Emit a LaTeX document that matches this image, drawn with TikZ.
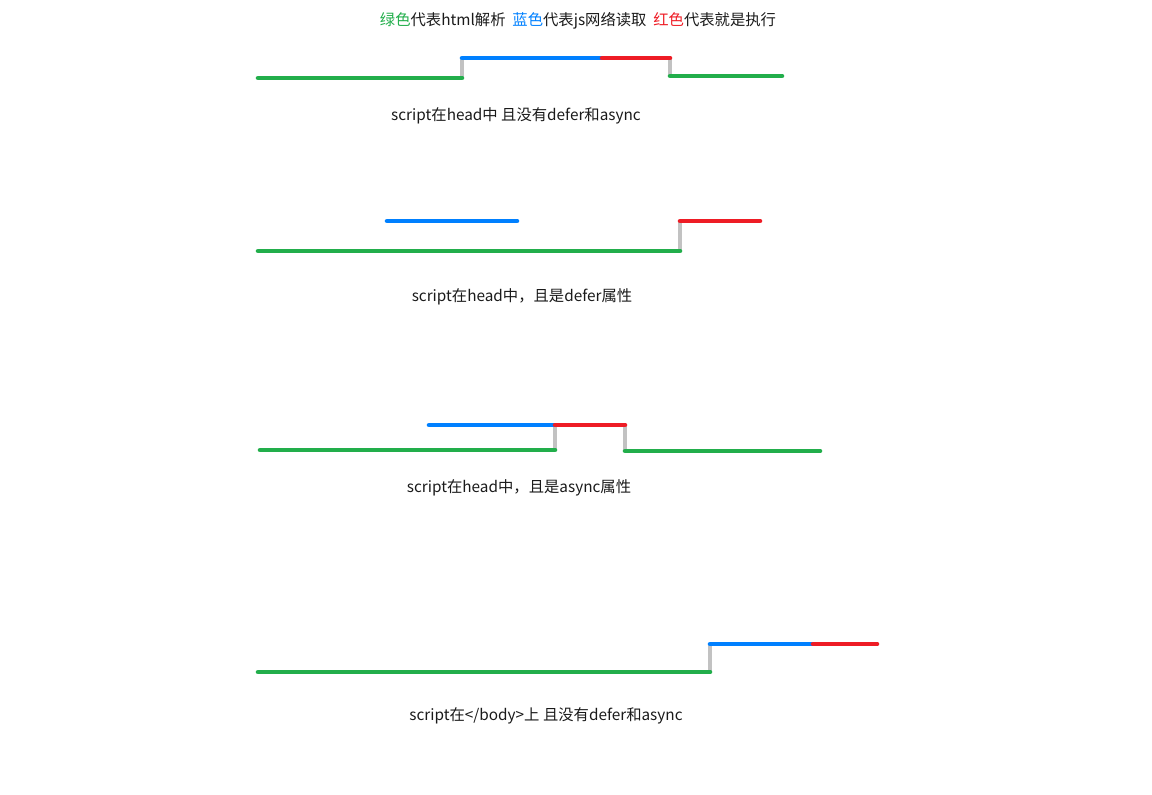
\documentclass[tikz,border=0pt]{standalone}
\usepackage{fontspec}
\setmainfont{Noto Sans CJK SC}
\usepackage{xcolor}
\definecolor{parseGreen}{HTML}{22AE4B}
\definecolor{loadBlue}{HTML}{0080FF}
\definecolor{runRed}{HTML}{EE1C25}
\definecolor{stepGray}{HTML}{C2C2C2}
\definecolor{textDark}{HTML}{1A1A1A}
\usetikzlibrary{positioning,calc}
\tikzset{
    parse/.style={line width=3.4pt, color=parseGreen, line cap=round},
    load/.style={line width=3.4pt, color=loadBlue, line cap=round},
    run/.style={line width=3.4pt, color=runRed, line cap=round},
    jump/.style={line width=3.2pt, color=stepGray},
    caption/.style={font=\fontsize{11.5pt}{13pt}\selectfont, text=textDark, inner sep=0pt}
}

\begin{document}
\begin{tikzpicture}[x=0.75pt, y=-0.75pt]
    \useasboundingbox (0,0) rectangle (1152,794);
    \node[caption] (legend) at (578,21) {\textcolor{parseGreen}{绿色}代表html解析\ \ \textcolor{loadBlue}{蓝色}代表js网络读取\ \ \textcolor{runRed}{红色}代表就是执行};

    % no defer / async
    \coordinate (a0) at (258,78);
    \coordinate (a1) at (462,78);
    \coordinate (a2) at (462,58);
    \coordinate (a3) at (602,58);
    \coordinate (a4) at (670,58);
    \coordinate (a5) at (670,76);
    \coordinate (a6) at (782,76);
    \draw[jump] (a1) -- (a2);
    \draw[jump] (a4) -- (a5);
    \draw[parse] (a0) -- (a1);
    \draw[load] (a2) -- (a3);
    \draw[run] (a3) -- (a4);
    \draw[parse] (a5) -- (a6);
    \node[caption] (capA) at (516,116) {script在head中 且没有defer和async};

    % defer
    \coordinate (b0) at (258,251);
    \coordinate (b1) at (680,251);
    \coordinate (b2) at (680,221);
    \coordinate (b3) at (760,221);
    \coordinate (bl0) at (387,221);
    \coordinate (bl1) at (517,221);
    \draw[jump] (b1) -- (b2);
    \draw[parse] (b0) -- (b1);
    \draw[load] (bl0) -- (bl1);
    \draw[run] (b2) -- (b3);
    \node[caption] (capB) at (522,297) {script在head中，且是defer属性};

    % async
    \coordinate (c0) at (260,450);
    \coordinate (c1) at (555,450);
    \coordinate (c2) at (555,425);
    \coordinate (c3) at (625,425);
    \coordinate (c4) at (625,451);
    \coordinate (c5) at (820,451);
    \coordinate (cl0) at (429,425);
    \draw[jump] (c1) -- (c2);
    \draw[jump] (c3) -- (c4);
    \draw[parse] (c0) -- (c1);
    \draw[load] (cl0) -- (c2);
    \draw[run] (c2) -- (c3);
    \draw[parse] (c4) -- (c5);
    \node[caption] (capC) at (519,488) {script在head中，且是async属性};

    % before </body>
    \coordinate (d0) at (258,672);
    \coordinate (d1) at (710,672);
    \coordinate (d2) at (710,644);
    \coordinate (d3) at (813,644);
    \coordinate (d4) at (877,644);
    \draw[jump] (d1) -- (d2);
    \draw[parse] (d0) -- (d1);
    \draw[load] (d2) -- (d3);
    \draw[run] (d3) -- (d4);
    \node[caption] (capD) at (546,716) {script在</body>上 且没有defer和async};
\end{tikzpicture}
\end{document}
